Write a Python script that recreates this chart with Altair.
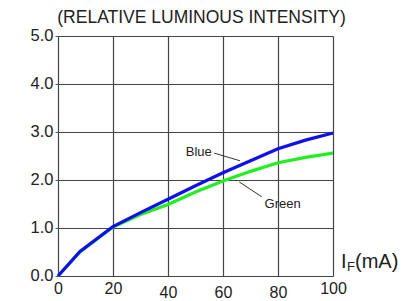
import altair as alt
import pandas as pd

current = [0, 8, 20, 30, 40, 50, 60, 70, 80, 90, 100]
blue = [0, 0.51, 1.03, 1.32, 1.6, 1.88, 2.15, 2.4, 2.65, 2.83, 2.98]
green = [0, 0.5, 1.02, 1.28, 1.49, 1.75, 1.98, 2.18, 2.36, 2.47, 2.56]
x_ticks = [0, 10, 20, 30, 40, 50, 60, 70, 80, 90, 100]
y_ticks = [0, 1, 2, 3, 4, 5]
label_names = ["Blue", "Green"]
label_x = [51.2, 81.7]
label_y = [2.59, 1.49]
leader_x = [56.8, 65.9]
leader_y = [2.56, 1.96]
leader_x2 = [66.2, 74.1]
leader_y2 = [2.40, 1.65]

df = pd.DataFrame({
    "current": current * 2,
    "value": green + blue,
    "series": ["Green"] * len(current) + ["Blue"] * len(current),
    "order": [0] * len(current) + [1] * len(current),
})
labels = pd.DataFrame({"name": label_names, "x": label_x, "y": label_y})
leaders = pd.DataFrame({"x": leader_x, "y": leader_y, "x2": leader_x2, "y2": leader_y2})

FONT = "Liberation Sans"

xscale = alt.Scale(domain=[0, 100], nice=False)
yscale = alt.Scale(domain=[0, 5], nice=False)

xaxis = alt.Axis(
    values=x_ticks, title=None, domain=False, ticks=False,
    labelExpr="datum.value % 20 == 0 ? datum.label : ''",
    labelFont=FONT, labelFontSize=16, labelColor="#222", labelFlush=False,
    labelPadding={"condition": {"test": "datum.value == 40 || datum.value == 80 || datum.value == 60", "value": 8}, "value": 4},
    grid=True, gridColor="#444", gridWidth=1.2,
)
yaxis = alt.Axis(
    values=y_ticks, title=None, domain=False, ticks=True, tickSize=3, tickColor="#555",
    format=".1f", labelFont=FONT, labelFontSize=16.5, labelColor="#222", labelFlush=False,
    labelOffset=-1, labelPadding=2,
    grid=True, gridColor="#444", gridWidth=1.2,
)

lines = alt.Chart(df).mark_line(strokeWidth=3.2).encode(
    x=alt.X("current:Q", scale=xscale, axis=xaxis),
    y=alt.Y("value:Q", scale=yscale, axis=yaxis),
    color=alt.Color("series:N", scale=alt.Scale(domain=["Green", "Blue"], range=["#22ee22", "#1010e8"]), legend=None),
    order="order:Q",
    detail="series:N",
)

lead = alt.Chart(leaders).mark_rule(color="#333", strokeWidth=1).encode(
    x="x:Q", y="y:Q", x2="x2:Q", y2="y2:Q"
)

txt = alt.Chart(labels).mark_text(font=FONT, fontSize=13, color="#222").encode(
    x="x:Q", y="y:Q", text="name:N"
)

title_df = pd.DataFrame({"t": ["(RELATIVE LUMINOUS INTENSITY)"]})
title = alt.Chart(title_df).mark_text(font=FONT, fontSize=17.5, color="#222", align="center", baseline="middle").encode(
    x=alt.value(143.5), y=alt.value(-18.5), text="t:N"
)

xt_df = pd.DataFrame({"a": ["I"], "b": ["F"], "c": ["(mA)"]})
xt1 = alt.Chart(xt_df).mark_text(font=FONT, fontSize=20, color="#222", align="left", baseline="alphabetic").encode(
    x=alt.value(283), y=alt.value(232), text="a:N"
)
xt2 = alt.Chart(xt_df).mark_text(font=FONT, fontSize=13, color="#222", align="left", baseline="alphabetic").encode(
    x=alt.value(289), y=alt.value(234.5), text="b:N"
)
xt3 = alt.Chart(xt_df).mark_text(font=FONT, fontSize=20, color="#222", align="left", baseline="alphabetic").encode(
    x=alt.value(297), y=alt.value(232), text="c:N"
)

chart = alt.layer(lines, lead, txt, title, xt1, xt2, xt3).properties(
    width=275, height=240,
    padding={"left": 50, "top": 28, "right": 67, "bottom": 25},
    autosize="none",
).configure_view(stroke="#777", strokeWidth=1.5).configure(background="white")

chart.save("out.html", embed_options={"renderer": "svg", "actions": False})
